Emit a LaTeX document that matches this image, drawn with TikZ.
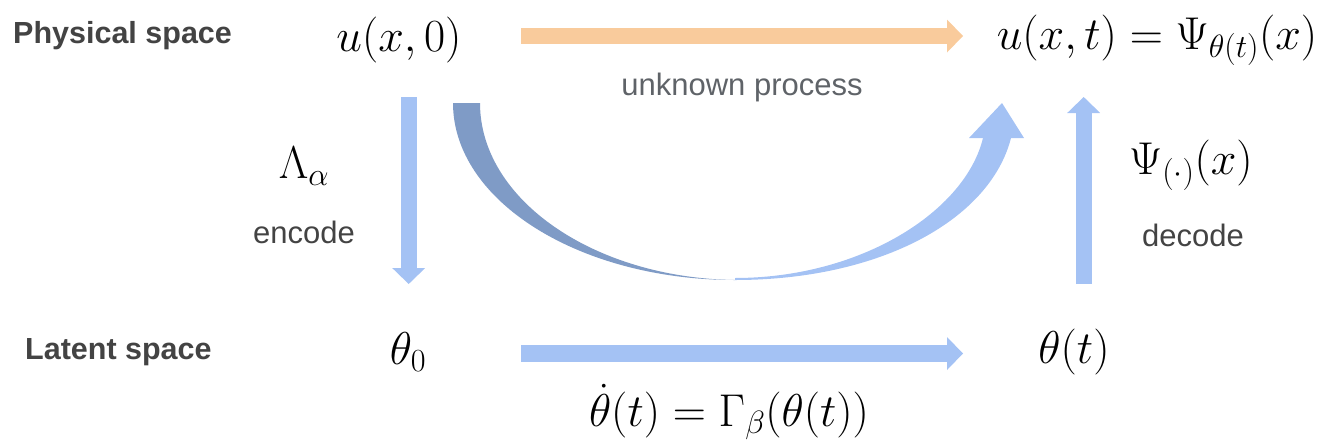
\RequirePackage{fix-cm}
\documentclass[tikz,border=0pt]{standalone}
\usepackage[no-math]{fontspec}
\setmainfont{Liberation Sans}
\usetikzlibrary{arrows.meta}
\definecolor{lblue}{HTML}{A4C2F4}
\definecolor{dblue}{HTML}{7F9BC6}
\definecolor{lorange}{HTML}{F9CB9C}
\definecolor{txt}{HTML}{434343}
\definecolor{txtl}{HTML}{5F6368}
\begin{document}
\begin{tikzpicture}[x=1pt,y=-1pt,
  mth/.style={font=\fontsize{46}{52}\selectfont, inner sep=0pt},
  lab/.style={font=\fontsize{31}{36}\selectfont, text=txtl, inner sep=0pt},
  spc/.style={font=\fontsize{30.5}{36}\selectfont\bfseries, text=txt, inner sep=0pt, anchor=west},
  blk/.style={line width=#1, -{Triangle[width=33pt,length=16pt,line width=0pt]}},
  blk/.default=16pt]
\useasboundingbox (0,0) rectangle (1323,445);

% texts
\node[spc] (phys) at (13,36) {Physical space};
\node[spc] (lat) at (25,352) {Latent space};
\node[mth] (u0) at (399,40) {$u(x,0)$};
\node[mth] (ut) at (1157,40) {$u(x,t)=\Psi_{\theta(t)}(x)$};
\node[mth] (th0) at (408,352) {$\theta_0$};
\node[mth] (tht) at (1074,352) {$\theta(t)$};
\node[mth] (ode) at (729,412) {$\dot\theta(t)=\Gamma_\beta(\theta(t))$};
\node[mth] (lam) at (304,166) {$\Lambda_\alpha$};
\node[mth] (psi) at (1191,165) {$\Psi_{(\cdot)}(x)$};
\node[lab] (unk) at (742,87) {unknown process};
\node[lab, text=txt] (enc) at (304,232) {encode};
\node[lab, text=txt] (dec) at (1193,235) {decode};

% straight block arrows
\coordinate (a1s) at (521,36);
\coordinate (a1e) at (963,36);
\draw[blk, lorange] (a1s) -- (a1e);
\coordinate (a2s) at (521,353.5);
\coordinate (a2e) at (963,353.5);
\draw[blk=17pt, lblue] (a2s) -- (a2e);
\coordinate (a3s) at (408.7,97);
\coordinate (a3e) at (408.7,284);
\draw[blk, lblue] (a3s) -- (a3e);
\coordinate (a4s) at (1083.7,284);
\coordinate (a4e) at (1083.7,97);
\draw[blk, lblue] (a4s) -- (a4e);

% curved tapered arrow
\fill[dblue] (453,103) .. controls (453,200.8) and (579.3,280) .. (735,280)
  .. controls (594.2,278) and (480,199.7) .. (480,103) -- cycle;
\fill[lblue] (735,280) .. controls (880,280) and (990,220) .. (1011,138)
  -- (983,138) .. controls (965,212) and (860,278) .. (735,278) -- cycle;
\fill[lblue] (969,138) -- (1002,103) -- (1024,138) -- cycle;
\end{tikzpicture}
\end{document}
